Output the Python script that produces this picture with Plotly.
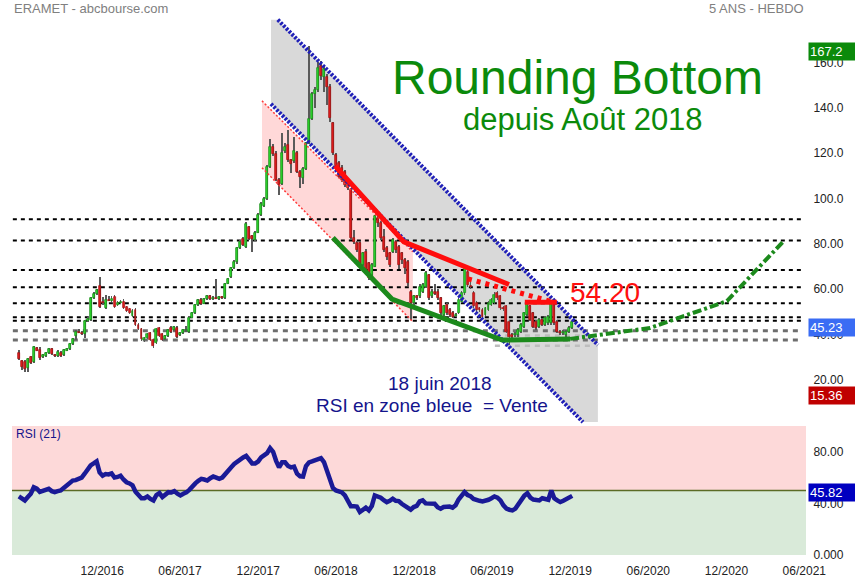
import plotly.graph_objects as go
import pandas as pd

# ---------------- data (weekly candles) ----------------
START_DATE = "2016-05-20"
N_WEEKS = 186

opens = [31.6, 28.3, 27.9, 25.0, 29.9, 27.9, 33.8, 33.1, 29.9, 30.5,
         31.6, 33.4, 30.9, 30.5, 31.6, 30.9, 32.8, 33.5, 35.8, 39.3,
         41.2, 40.8, 40.2, 46.1, 46.4, 55.9, 57.8, 61.4, 54.4, 51.5,
         55.2, 54.9, 56.4, 53.0, 53.7, 54.4, 52.0, 51.1, 48.1, 50.8,
         44.2, 42.3, 37.5, 38.3, 40.5, 37.5, 36.3, 42.7, 40.2, 37.8,
         39.3, 42.7, 41.9, 42.7, 39.7, 40.8, 41.7, 41.2, 47.4, 49.4,
         53.0, 55.2, 53.6, 55.6, 56.9, 55.6, 56.2, 55.8, 56.3, 55.9,
         62.3, 65.2, 69.2, 71.7, 78.0, 82.0, 78.7, 87.3, 83.4, 81.7,
         84.9, 92.7, 96.7, 99.6, 114.0, 122.6, 119.6, 108.2, 106.4, 120.7,
         123.6, 116.7, 116.3, 120.0, 111.8, 108.9, 112.9, 124.4, 135.0, 146.1,
         147.9, 158.2, 153.5, 153.5, 149.1, 133.2, 119.2, 115.5, 113.3, 111.8,
         107.4, 103.8, 82.4, 80.2, 80.2, 70.6, 76.5, 71.4, 65.5, 69.9,
         91.3, 89.3, 83.1, 78.0, 75.8, 76.5, 80.9, 78.7, 75.8, 72.8,
         72.0, 58.9, 53.7, 56.7, 56.7, 58.9, 61.1, 66.2, 56.7, 58.5,
         58.9, 55.9, 48.6, 53.0, 50.8, 49.6, 48.0, 49.3, 54.4, 58.1,
         67.7, 61.5, 58.1, 53.7, 51.5, 50.8, 48.6, 50.8, 53.0, 53.7,
         58.1, 56.7, 51.5, 52.3, 45.6, 39.7, 39.5, 39.7, 41.2, 43.4,
         48.6, 52.3, 49.3, 45.6, 43.4, 46.4, 44.2, 44.9, 44.9, 53.0,
         45.6, 41.2, 40.5, 39.7, 41.2, 42.7]

highs = [33.1, 28.8, 28.5, 29.5, 30.5, 35.0, 34.5, 34.5, 31.5, 32.0,
         33.8, 33.9, 31.3, 33.0, 32.5, 33.5, 34.0, 36.2, 38.3, 41.8,
         42.5, 41.5, 46.5, 47.5, 56.5, 58.5, 60.2, 65.2, 56.5, 57.5,
         57.0, 57.0, 57.2, 54.5, 55.0, 55.5, 52.5, 51.8, 51.0, 51.5,
         44.8, 42.8, 38.8, 40.6, 41.0, 38.0, 42.8, 43.4, 40.8, 39.6,
         42.5, 43.8, 43.5, 43.5, 41.0, 42.2, 43.5, 48.0, 49.8, 53.5,
         55.6, 56.2, 56.0, 57.5, 57.3, 56.8, 64.5, 57.0, 57.0, 62.8,
         64.8, 69.8, 72.8, 78.6, 81.6, 82.8, 89.6, 88.0, 84.0, 85.5,
         93.5, 98.3, 100.4, 114.8, 126.0, 124.0, 121.0, 109.0, 129.0, 124.5,
         130.2, 117.5, 127.0, 121.0, 112.5, 114.0, 125.0, 167.2, 147.0, 149.0,
         160.0, 160.5, 158.5, 155.0, 150.5, 133.8, 120.0, 116.5, 114.5, 112.5,
         108.5, 104.5, 86.0, 81.0, 81.0, 76.5, 77.5, 72.0, 71.5, 92.8,
         92.2, 90.0, 86.5, 79.0, 76.5, 82.5, 81.8, 79.5, 76.5, 73.5,
         73.0, 59.5, 57.5, 57.5, 62.0, 62.8, 68.0, 66.8, 59.8, 62.0,
         59.8, 56.5, 53.0, 53.8, 51.5, 50.2, 49.5, 56.0, 59.0, 70.0,
         68.5, 63.0, 59.0, 54.5, 52.2, 51.5, 52.2, 54.5, 56.0, 58.5,
         59.0, 57.5, 52.3, 53.0, 46.3, 40.5, 41.0, 43.0, 45.0, 50.0,
         54.2, 53.0, 50.0, 46.3, 47.2, 47.0, 48.0, 48.5, 54.2, 53.8,
         46.3, 42.0, 42.0, 42.0, 43.5, 46.0]

lows = [28.6, 24.4, 23.5, 23.6, 27.0, 27.5, 32.5, 28.9, 29.5, 30.0,
        31.2, 31.0, 30.0, 30.2, 30.2, 30.6, 32.5, 33.2, 35.5, 37.5,
        40.5, 39.8, 38.5, 45.5, 46.0, 55.5, 57.2, 51.5, 53.0, 51.0,
        54.5, 54.2, 51.8, 52.5, 53.2, 51.0, 50.0, 48.8, 47.5, 43.8,
        41.8, 37.2, 36.8, 37.8, 37.0, 34.2, 35.8, 38.8, 37.0, 37.3,
        38.8, 40.8, 41.5, 38.5, 39.2, 40.3, 41.0, 40.8, 47.0, 49.0,
        52.6, 53.0, 53.2, 55.2, 55.2, 55.0, 55.5, 55.3, 55.5, 55.5,
        62.0, 64.8, 68.8, 71.2, 77.5, 79.0, 78.2, 81.5, 76.5, 81.2,
        84.5, 92.2, 96.2, 99.2, 113.5, 118.8, 107.5, 101.5, 105.8, 119.8,
        116.0, 111.0, 115.8, 111.0, 104.5, 106.5, 112.5, 124.0, 134.5, 140.0,
        147.0, 152.0, 147.0, 141.0, 133.5, 119.0, 112.0, 108.8, 107.0, 105.0,
        103.5, 81.5, 80.0, 76.5, 69.5, 70.0, 67.5, 64.0, 65.0, 69.5,
        87.5, 81.5, 76.5, 73.0, 69.5, 76.0, 76.0, 69.0, 71.0, 66.5,
        61.5, 46.4, 53.0, 55.2, 56.2, 58.2, 60.5, 55.2, 56.0, 57.5,
        55.2, 48.6, 48.0, 48.6, 47.8, 47.0, 47.5, 48.8, 54.0, 57.5,
        61.0, 60.0, 51.5, 50.0, 50.0, 47.0, 48.0, 50.2, 52.5, 53.2,
        55.2, 50.8, 50.2, 40.5, 35.5, 37.5, 38.8, 39.0, 40.5, 43.0,
        48.0, 45.8, 42.8, 42.0, 42.8, 43.6, 43.6, 44.2, 44.2, 44.2,
        40.5, 39.5, 39.8, 39.0, 40.8, 42.2]

closes = [29.0, 25.8, 24.6, 29.0, 27.5, 34.3, 32.8, 29.4, 30.9, 31.6,
          33.4, 31.4, 30.5, 32.4, 30.5, 33.1, 33.5, 35.8, 37.8, 41.2,
          40.8, 40.2, 46.1, 46.7, 55.9, 57.8, 59.6, 52.0, 53.7, 55.2,
          54.9, 55.5, 52.2, 53.7, 54.3, 51.5, 50.5, 49.3, 50.5, 44.2,
          42.3, 37.8, 38.3, 40.2, 37.5, 34.9, 42.3, 39.3, 37.5, 39.3,
          41.9, 41.2, 43.1, 39.0, 40.5, 41.7, 42.0, 47.4, 49.4, 53.0,
          55.2, 53.6, 55.6, 56.9, 55.6, 56.2, 55.8, 56.3, 55.9, 62.3,
          64.3, 69.2, 72.1, 78.0, 80.9, 79.5, 88.7, 82.0, 82.0, 84.9,
          92.7, 97.6, 99.6, 114.0, 122.6, 119.6, 108.2, 106.0, 120.0, 122.6,
          116.7, 115.2, 120.7, 111.8, 109.6, 112.9, 124.4, 135.0, 146.1, 147.9,
          157.5, 153.8, 157.0, 149.1, 135.4, 120.0, 114.1, 109.6, 108.2, 106.0,
          104.5, 82.4, 80.9, 77.3, 70.6, 75.8, 68.4, 64.8, 70.6, 92.0,
          89.0, 82.4, 77.3, 74.3, 70.6, 81.7, 77.3, 70.6, 72.8, 69.2,
          62.6, 53.7, 56.7, 55.9, 61.1, 61.8, 67.0, 55.9, 58.9, 58.0,
          55.9, 49.3, 52.3, 49.3, 48.6, 47.8, 48.5, 55.2, 58.1, 69.2,
          61.8, 61.0, 52.3, 50.8, 50.8, 47.8, 51.5, 53.7, 55.2, 57.4,
          55.9, 51.5, 51.0, 41.2, 39.0, 39.0, 40.0, 42.0, 44.2, 49.3,
          53.7, 46.4, 43.4, 42.7, 46.4, 44.2, 47.1, 47.8, 53.7, 44.9,
          41.2, 40.5, 41.0, 41.2, 42.7, 45.23]

rsi = [45.4, 43.5, 42.3, 45.0, 47.5, 52.5, 51.5, 49.0, 49.5, 50.5,
       51.3, 49.5, 48.7, 49.5, 50.0, 52.0, 54.0, 56.0, 57.7, 58.0,
       59.5, 60.0, 63.0, 67.0, 69.5, 71.0, 72.6, 64.0, 61.5, 62.8,
       62.5, 63.3, 60.0, 60.5, 61.5, 58.5, 56.4, 55.5, 54.0, 49.0,
       46.0, 44.0, 44.0, 45.4, 43.5, 42.3, 46.5, 48.0, 44.9, 46.5,
       48.7, 48.5, 49.5, 47.5, 46.2, 47.5, 48.5, 50.5, 53.5, 55.5,
       57.5, 59.0, 58.5, 57.7, 59.5, 60.8, 60.0, 59.0, 60.0, 62.3,
       65.0, 68.0, 70.5, 72.5, 74.5, 75.6, 76.9, 73.5, 71.0, 71.0,
       72.5, 75.6, 77.5, 79.0, 82.8, 80.0, 73.0, 67.9, 71.8, 71.8,
       69.0, 67.9, 68.5, 63.0, 61.0, 60.8, 69.0, 71.8, 72.5, 73.1,
       74.5, 75.1, 72.0, 66.0, 59.0, 52.0, 50.0, 49.5, 48.5, 46.2,
       42.0, 37.7, 37.7, 37.5, 33.3, 35.5, 36.7, 34.6, 38.0, 46.2,
       45.5, 44.4, 42.5, 41.0, 42.0, 43.6, 42.0, 41.8, 39.7, 38.0,
       36.0, 35.1, 37.2, 38.0, 41.5, 42.3, 40.0, 39.7, 39.7, 39.7,
       37.0, 35.9, 37.2, 37.7, 37.5, 36.7, 38.5, 43.0, 45.5, 48.7,
       46.5, 45.5, 43.5, 42.5, 42.0, 41.5, 42.0, 42.8, 44.0, 45.4,
       44.5, 42.3, 38.5, 36.0, 35.1, 34.6, 36.0, 39.7, 43.0, 46.0,
       47.9, 44.5, 43.0, 42.3, 42.3, 44.0, 43.5, 42.8, 50.0, 44.0,
       42.3, 41.0, 42.0, 43.6, 44.9, 45.82]

RSI_MID = 50

# horizontal support / resistance levels
levels_black = [90.8, 81.4, 68.4, 60.8, 53.7, 47.5, 46.0]
levels_gray = [41.6, 37.5]
levels_light = [39.5, 35.0]
levels_span = ["2016-05-06", "2021-05-27"]
light_span = ["2019-06-08", "2020-01-24"]

# descending channel (grey) and pink channel
gray_chan_dates = ["2017-12-31", "2018-01-16", "2020-02-04", "2020-02-04", "2019-12-31", "2017-12-31"]
gray_chan_prices = [178.8, 178.8, 35.3, 1.3, 1.3, 141.7]
pink_chan_dates = ["2017-12-10", "2018-11-28", "2018-11-28", "2017-12-10"]
pink_chan_prices = [143.0, 76.4, 45.5, 113.5]

blue_upper_dates = ["2018-01-16", "2020-02-04"]
blue_upper_prices = [178.8, 35.3]
blue_lower_dates = ["2017-12-31", "2019-12-31"]
blue_lower_prices = [141.7, 1.3]
pink_upper_dates = ["2017-12-10", "2018-11-28"]
pink_upper_prices = [143.0, 76.4]
pink_lower_dates = ["2017-12-10", "2018-11-28"]
pink_lower_prices = [113.5, 45.5]

resist_dates = ["2018-05-30", "2018-11-07", "2019-07-11"]
resist_prices = [114.3, 80.8, 62.0]
resist2_dates = ["2019-04-06", "2019-10-22"]
resist2_prices = [64.5, 54.3]
target_dates = ["2019-08-17", "2019-10-31"]
target_prices = [54.2, 54.2]
support_dates = ["2018-05-25", "2018-10-10", "2019-06-25", "2019-12-01"]
support_prices = [82.6, 55.6, 37.5, 38.0]
proj_dates = ["2019-12-01", "2020-06-05", "2020-12-02", "2021-04-12"]
proj_prices = [38.0, 42.8, 54.7, 80.8]

x_tick_dates = ["2016-12-01", "2017-06-01", "2017-12-01", "2018-06-01", "2018-12-01",
                "2019-06-01", "2019-12-01", "2020-06-01", "2020-12-01", "2021-06-01"]
x_tick_text = ["12/2016", "06/2017", "12/2017", "06/2018", "12/2018",
               "06/2019", "12/2019", "06/2020", "12/2020", "06/2021"]
price_ticks = [20, 40, 60, 80, 100, 120, 140, 160]
price_tick_text = ["20.00", "40.00", "60.00", "80.00", "100.0", "120.0", "140.0", "160.0"]
rsi_ticks = [0, 40, 80]
rsi_tick_text = ["0.000", "40.00", "80.00"]

MAX_LABEL = 167.2
LAST_LABEL = 45.23
MIN_LABEL = 15.36
RSI_LABEL = 45.82
TARGET_LABEL = "54.20"

X_RANGE = ["2016-05-04", "2021-06-05"]

# ---------------- figure ----------------
FONT = "Liberation Sans, Arial, sans-serif"
dates = pd.date_range(START_DATE, periods=N_WEEKS, freq="7D")
DAY_MS = 86400000

fig = go.Figure()

# wicks (thin bars)
fig.add_trace(go.Bar(
    x=dates, base=lows, y=[h - l for h, l in zip(highs, lows)],
    width=2.0 * DAY_MS, marker=dict(color="#5a5a5a", line=dict(width=0)),
    xaxis="x", yaxis="y", showlegend=False, hoverinfo="skip"))

up_idx = [i for i in range(N_WEEKS) if closes[i] >= opens[i]]
dn_idx = [i for i in range(N_WEEKS) if closes[i] < opens[i]]
for idx, fill, edge in [(up_idx, "#2bd62b", "#178a17"), (dn_idx, "#e21c1c", "#9c1010")]:
    fig.add_trace(go.Bar(
        x=[dates[i] for i in idx],
        base=[min(opens[i], closes[i]) for i in idx],
        y=[max(abs(closes[i] - opens[i]), 0.15) for i in idx],
        width=4.6 * DAY_MS,
        marker=dict(color=fill, line=dict(color=edge, width=0.7)),
        xaxis="x", yaxis="y", showlegend=False, hoverinfo="skip"))


def add_line(xs, ys, color, width, dash="solid"):
    fig.add_trace(go.Scatter(x=xs, y=ys, mode="lines",
                             line=dict(color=color, width=width, dash=dash),
                             xaxis="x", yaxis="y", showlegend=False, hoverinfo="skip"))


add_line(pink_upper_dates, pink_upper_prices, "#ff3b3b", 1.5, "2px,2px")
add_line(pink_lower_dates, pink_lower_prices, "#ff3b3b", 1.5, "2px,2px")
add_line(blue_upper_dates, blue_upper_prices, "#2020b8", 4, "2.5px,1.5px")
add_line(blue_lower_dates, blue_lower_prices, "#2020b8", 4, "2.5px,1.5px")
add_line(resist_dates, resist_prices, "#ff0d0d", 5)
add_line(resist2_dates, resist2_prices, "#ff0d0d", 5, "4px,5px")
add_line(target_dates, target_prices, "#ff0d0d", 5)
add_line(support_dates, support_prices, "#1c8a1c", 5)
add_line(proj_dates, proj_prices, "#1c8a1c", 4, "9px,3px,3px,3px")

# RSI
fig.add_trace(go.Scatter(x=dates, y=rsi, mode="lines",
                         line=dict(color="#1a1a96", width=4.5),
                         xaxis="x2", yaxis="y2", showlegend=False, hoverinfo="skip"))

shapes = []


def poly_path(ds, ps):
    return "M " + " L ".join(f"{d},{p}" for d, p in zip(ds, ps)) + " Z"


shapes.append(dict(type="path", xref="x", yref="y", layer="below",
                   path=poly_path(gray_chan_dates, gray_chan_prices),
                   fillcolor="#d9d9d9", line=dict(width=0)))
shapes.append(dict(type="path", xref="x", yref="y", layer="below",
                   path=poly_path(pink_chan_dates, pink_chan_prices),
                   fillcolor="#ffd8d8", line=dict(width=0)))
for lv in levels_black:
    shapes.append(dict(type="line", xref="x", yref="y", layer="below",
                       x0=levels_span[0], x1=levels_span[1], y0=lv, y1=lv,
                       line=dict(color="#000000", width=2, dash="4px,4px")))
for lv in levels_gray:
    shapes.append(dict(type="line", xref="x", yref="y", layer="below",
                       x0=levels_span[0], x1=levels_span[1], y0=lv, y1=lv,
                       line=dict(color="#6e6e6e", width=3, dash="5px,5px")))
for lv in levels_light:
    shapes.append(dict(type="line", xref="x", yref="y", layer="below",
                       x0=light_span[0], x1=light_span[1], y0=lv, y1=lv,
                       line=dict(color="#bdbdbd", width=2.5, dash="5px,5px")))
# RSI zones
shapes.append(dict(type="rect", xref="paper", yref="y2", layer="below",
                   x0=0, x1=1, y0=RSI_MID, y1=100, fillcolor="#fdd9d9", line=dict(width=0)))
shapes.append(dict(type="rect", xref="paper", yref="y2", layer="below",
                   x0=0, x1=1, y0=0, y1=RSI_MID, fillcolor="#d9ead9", line=dict(width=0)))
shapes.append(dict(type="line", xref="paper", yref="y2", layer="below",
                   x0=0, x1=1, y0=RSI_MID, y1=RSI_MID, line=dict(color="#5b6b25", width=1.5)))

annotations = []


def txt(text, x, y, size, color, xanchor="center", xref="paper", yref="paper", **kw):
    annotations.append(dict(text=text, x=x, y=y, xref=xref, yref=yref, showarrow=False,
                            xanchor=xanchor, yanchor="middle",
                            font=dict(family=FONT, size=size, color=color), **kw))


txt("ERAMET - abcbourse.com", 0.0, 1.0167, 13, "#808080", xanchor="left")
txt("5 ANS - HEBDO", 1.0, 1.0167, 13, "#808080", xanchor="right")
txt("Rounding Bottom", 0.7116, 0.8874, 48, "#0b8a0b")
txt("depuis Août 2018", 0.7191, 0.8104, 31, "#0b8a0b")
txt(TARGET_LABEL, 0.7469, 0.487, 28, "#ff1010")
txt("18 juin 2018", 0.539, 0.3197, 19, "#14148c")
txt("RSI en zone bleue \u00a0= Vente", 0.529, 0.2788, 19, "#14148c")
txt("RSI (21)", 0.0025, 0.2249, 12, "#14148c", xanchor="left")


def value_box(val, yref, bg, yshift):
    annotations.append(dict(text=f"{val}", x=1, xref="paper", y=val, yref=yref,
                            xanchor="left", yanchor="middle", xshift=2, yshift=yshift,
                            showarrow=False, bgcolor=bg, borderpad=1, width=50, align="left",
                            font=dict(family=FONT, size=13, color="#ffffff")))


value_box(MAX_LABEL, "y", "#0b8a0b", -5)
value_box(LAST_LABEL, "y", "#3a6cf4", -5)
value_box(MIN_LABEL, "y", "#c00000", -5)
value_box(RSI_LABEL, "y2", "#0000c0", 3.5)

axis_font = dict(family=FONT, size=12, color="#222222")
fig.update_layout(
    width=855, height=580,
    margin=dict(l=12, r=49, t=17, b=25, autoexpand=False),
    paper_bgcolor="white", plot_bgcolor="white",
    barmode="overlay", bargap=0,
    shapes=shapes, annotations=annotations,
    xaxis=dict(domain=[0, 1], anchor="y", range=X_RANGE, type="date", automargin=False,
               showticklabels=False, showgrid=False, zeroline=False, showline=False, ticks=""),
    yaxis=dict(domain=[0.2416, 1], anchor="x", range=[0, 180], side="right", automargin=False,
               tickvals=price_ticks, ticktext=price_tick_text, tickfont=axis_font,
               showgrid=False, zeroline=False, showline=False,
               ticks="outside", ticklen=4, tickcolor="rgba(0,0,0,0)"),
    xaxis2=dict(domain=[0, 1], anchor="y2", matches="x", type="date", automargin=False,
                tickvals=x_tick_dates, ticktext=x_tick_text, tickfont=axis_font,
                showgrid=False, zeroline=False, showline=False,
                ticks="outside", ticklen=5, tickcolor="rgba(0,0,0,0)"),
    yaxis2=dict(domain=[0, 0.2398], anchor="x2", range=[0, 100], side="right", automargin=False,
                tickvals=rsi_ticks, ticktext=rsi_tick_text, tickfont=axis_font,
                showgrid=False, zeroline=False, showline=False,
                ticks="outside", ticklen=4, tickcolor="rgba(0,0,0,0)"),
)

# remove the browser's default page margin so the figure sits at the window's corner
fig.write_html("out.html", config={"displayModeBar": False},
               post_script="document.body.style.margin='0px';")
